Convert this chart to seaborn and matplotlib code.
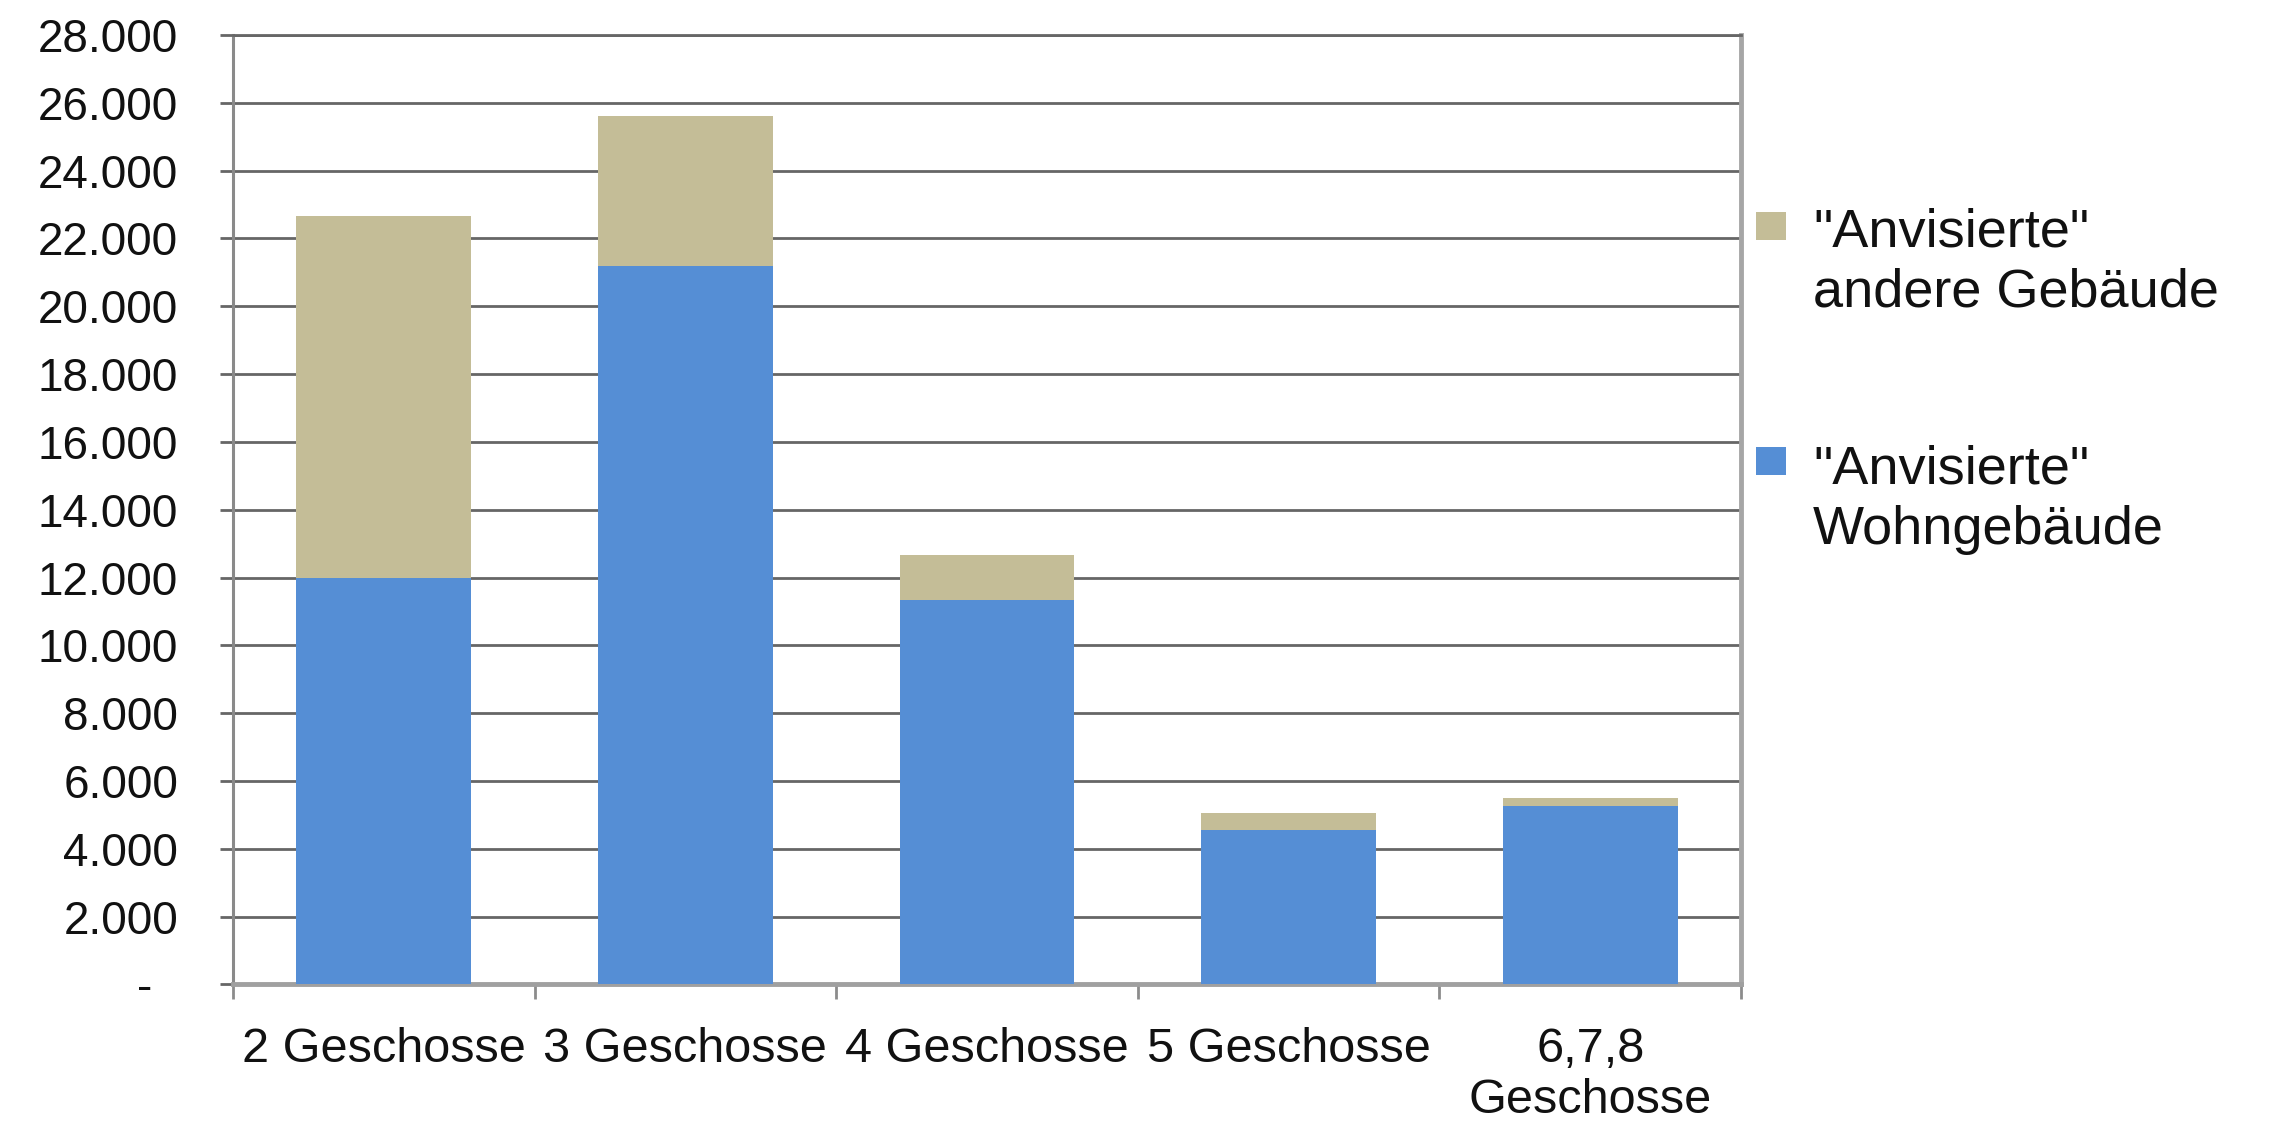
import matplotlib
matplotlib.use("Agg")
import matplotlib.pyplot as plt
import seaborn as sns
import pandas as pd
from matplotlib.patches import Rectangle

# Building counts per number of storeys
categories = ["2 Geschosse", "3 Geschosse", "4 Geschosse", "5 Geschosse", "6,7,8\nGeschosse"]
wohngebaeude = [12000, 21200, 11350, 4550, 5250]
andere_gebaeude = [10650, 4400, 1300, 500, 250]

y_ticks = list(range(0, 28001, 2000))
y_tick_labels = ["-  "] + [f"{v:,}".replace(",", ".") for v in y_ticks[1:]]
legend_labels = ['"Anvisierte"\nandere Gebäude', '"Anvisierte"\nWohngebäude']

BLUE = "#558ED5"
TAN = "#C4BD97"
GRID = "#666666"

sns.set_theme(style="white")
plt.rcParams["font.family"] = ["Liberation Sans", "DejaVu Sans"]

W, H = 2284, 1121
fig = plt.figure(figsize=(W / 100, H / 100), dpi=100)
fig.patch.set_facecolor("white")

x0, x1 = 233, 1741
y_top, y_zero = 35, 984.4
ax = fig.add_axes([x0 / W, 1 - y_zero / H, (x1 - x0) / W, (y_zero - y_top) / H])

totals = [w + a for w, a in zip(wohngebaeude, andere_gebaeude)]
df = pd.DataFrame({"cat": categories, "wohn": wohngebaeude, "total": totals})

# stacked bars: full height in tan, residential share in blue on top of it
sns.barplot(data=df, x="cat", y="total", color=TAN, width=0.58, saturation=1,
            linewidth=0, ax=ax, zorder=3)
sns.barplot(data=df, x="cat", y="wohn", color=BLUE, width=0.58, saturation=1,
            linewidth=0, ax=ax, zorder=3)

ax.set_xlim(-0.5, len(categories) - 0.5)
ax.set_ylim(0, 28000)
ax.set_xlabel("")
ax.set_ylabel("")
ax.set_axisbelow(True)

ax.yaxis.grid(True, color=GRID, linewidth=2.0)
ax.xaxis.grid(False)

ax.set_yticks(y_ticks, y_tick_labels)
ax.tick_params(axis="y", which="major", left=True, length=9.5, width=2.0,
               color=GRID, pad=30, labelsize=33, labelcolor="#111111")

ax.set_xticks(range(len(categories)), categories)
ax.tick_params(axis="x", which="major", bottom=True, length=0, pad=31,
               labelsize=35, labelcolor="#111111")
ax.set_xticks([i - 0.5 for i in range(len(categories) + 1)], minor=True)
ax.tick_params(axis="x", which="minor", bottom=True, length=11, width=2,
               color="#8c8c8c", direction="out")
for lbl in ax.get_xticklabels():
    lbl.set_linespacing(1.15)

for side, col, lw in [("left", "#8a8a8a", 2.2), ("right", "#a6a6a6", 3.5),
                      ("bottom", "#a0a0a0", 3.5), ("top", GRID, 2.0)]:
    ax.spines[side].set_visible(True)
    ax.spines[side].set_color(col)
    ax.spines[side].set_linewidth(lw)

# legend on the right: colour square next to the first line of each label
# (baseline given for the second line of each two-line label)
legend_items = [(TAN, legend_labels[0], 212, 307), (BLUE, legend_labels[1], 447, 544)]
for col, label, ptop, baseline in legend_items:
    fig.patches.append(Rectangle((1756 / W, 1 - (ptop + 28) / H), 30 / W, 28 / H,
                                 transform=fig.transFigure, facecolor=col,
                                 edgecolor="none"))
    fig.text(1813 / W, 1 - baseline / H, label, fontsize=39, color="#111111",
             va="baseline", ha="left", linespacing=1.26)

fig.savefig("out.png", dpi=100, facecolor="white")
